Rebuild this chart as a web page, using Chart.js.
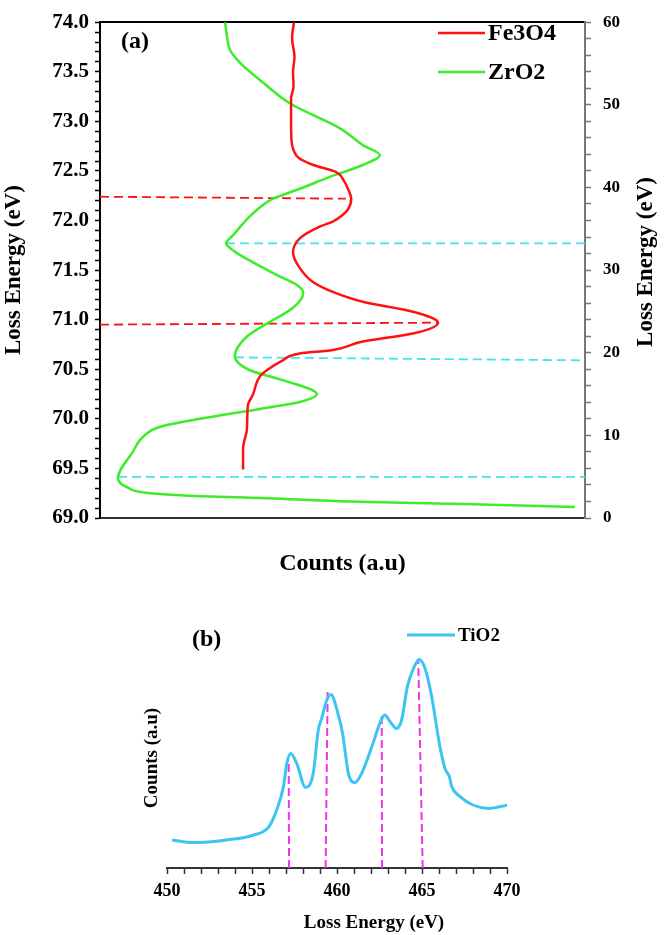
<!DOCTYPE html>
<html>
<head>
<meta charset="utf-8">
<script src="https://cdn.jsdelivr.net/npm/chart.js@4.4.1/dist/chart.umd.min.js"></script>
<style>
  body { margin: 0; background: #fff; }
  canvas { display: block; }
</style>
</head>
<body>
<canvas id="chartA" width="668" height="590"></canvas>
<canvas id="chartB" width="668" height="345"></canvas>
<script>
// ---- panel (a): Fe3O4 / ZrO2, energy on the vertical axis ----
const feEnergy = [74.00, 73.84, 73.65, 73.50, 73.35, 73.23, 73.00, 72.80, 72.71, 72.63, 72.56, 72.49, 72.40,
  72.30, 72.22, 72.11, 72.06, 71.99, 71.94, 71.82, 71.68, 71.52, 71.38, 71.28, 71.18, 71.08, 70.97, 70.86,
  70.78, 70.69, 70.66, 70.59, 70.49, 70.43, 70.24, 70.14, 69.90, 69.70, 69.49];
const feCounts = [40.0, 39.6, 40.1, 39.8, 39.9, 39.4, 39.4, 39.5, 39.9, 41.0, 44.0, 48.6, 50.3,
  51.3, 51.8, 51.1, 50.1, 48.0, 45.4, 41.2, 39.8, 41.2, 43.9, 48.0, 54.2, 64.5, 69.7, 64.5,
  54.2, 47.4, 41.2, 37.7, 34.4, 33.0, 31.5, 30.5, 30.3, 29.5, 29.5];

const zrEnergy = [74.00, 73.85, 73.72, 73.59, 73.36, 73.18, 72.93, 72.76, 72.66, 72.56, 72.44, 72.32, 72.22,
  72.07, 71.85, 71.77, 71.70, 71.62, 71.55, 71.45, 71.35, 71.27, 71.12, 70.96, 70.83, 70.63, 70.49, 70.39,
  70.25, 70.17, 70.10, 70.00, 69.92, 69.82, 69.67, 69.40, 69.31, 69.25, 69.22, 69.20, 69.17, 69.14, 69.11];
const zrCounts = [25.8, 26.2, 26.8, 28.9, 34.4, 39.2, 49.5, 54.2, 57.7, 54.2, 47.4, 41.2, 35.7,
  31.5, 27.4, 26.0, 27.4, 30.0, 32.6, 36.5, 40.6, 41.9, 39.8, 34.4, 30.3, 27.8, 30.9, 37.7,
  44.7, 41.2, 33.0, 20.6, 12.4, 8.9, 6.8, 3.7, 5.6, 10.3, 20.6, 34.4, 49.5, 74.8, 97.9];

// peak marker lines: [energy at start, energy at end], [count at start, count at end]
const feMarkEnergy = [[72.24, 72.22], [70.95, 70.97]];
const feMarkCounts = [[0, 50.7], [0, 69.7]];
const zrMarkEnergy = [[71.77, 71.77], [70.62, 70.59], [69.415, 69.415]];
const zrMarkCounts = [[26.0, 100], [27.8, 100], [3.7, 100]];

// ---- panel (b): TiO2 ----
const tiEnergy = [450.3, 451.5, 453.5, 455.1, 456.0, 456.45, 456.85, 457.05, 457.27, 457.63, 458.15, 458.6,
  458.9, 459.1, 459.4, 459.65, 460.0, 460.33, 460.67, 461.05, 461.45, 462.05, 462.6, 462.82, 463.12, 463.5,
  463.8, 464.14, 464.5, 464.84, 465.18, 465.57, 466.02, 466.35, 466.61, 466.75, 467.24, 468.0, 468.9, 470.05];
const tiCounts = [14, 12.7, 14, 16.5, 20.7, 29, 40.7, 52.3, 57.3, 52.3, 40.3, 47.3,
  69, 74.8, 84, 86.8, 79, 67.3, 47.3, 42.7, 47.3, 60.7, 74, 76.5, 73.2, 69.8,
  74, 90.7, 99.8, 104.3, 99.8, 85.7, 62.3, 49.8, 45.7, 40.7, 35.7, 31.5, 29.8, 31.5];
const tiMarkEnergy = [[457.18, 457.16], [459.33, 459.45], [462.65, 462.63], [465.04, 464.78]];
const tiMarkCounts = [[0, 53], [0, 88], [0, 78], [0, 104.3]];

const RED = '#ff1111', GREEN = '#3ded2a', CYAN = '#3ee6ee', BLUE = '#3cc4f2', MAGENTA = '#ee33ee';
const serif = '"Liberation Serif", "Times New Roman", serif';
const bold = size => ({ family: serif, size: size, weight: 'bold' });

function pts(xs, ys) {
  return xs.map((x, i) => ({ x: x, y: ys[i] }));
}

// texts and legend entries drawn at fixed spots around each panel
const panelText = {
  id: 'panelText',
  afterDraw(chart, args, opts) {
    const ctx = chart.ctx;
    ctx.save();
    ctx.fillStyle = '#000';
    ctx.textBaseline = 'middle';
    (opts.texts || []).forEach(t => {
      ctx.save();
      ctx.font = t.font;
      ctx.textAlign = t.align || 'left';
      ctx.translate(t.x, t.y);
      if (t.rotate) ctx.rotate(t.rotate);
      ctx.fillText(t.text, 0, 0);
      ctx.restore();
    });
    (opts.legend || []).forEach(l => {
      const ds = chart.data.datasets[l.dataset];
      ctx.strokeStyle = ds.borderColor;
      ctx.lineWidth = ds.borderWidth;
      ctx.beginPath();
      ctx.moveTo(l.x, l.y);
      ctx.lineTo(l.x + l.len, l.y);
      ctx.stroke();
      ctx.font = l.font;
      ctx.textAlign = 'left';
      ctx.fillText(ds.label, l.x + l.len + 3, l.y + 1);
    });
    ctx.restore();
  }
};

const dsA = [
  { label: 'Fe3O4', data: pts(feCounts, feEnergy), borderColor: RED, borderWidth: 2.5, cubicInterpolationMode: 'monotone' },
  { label: 'ZrO2', data: pts(zrCounts, zrEnergy), borderColor: GREEN, borderWidth: 2.5, cubicInterpolationMode: 'monotone' }
];
feMarkEnergy.forEach((e, i) => dsA.push({ data: pts(feMarkCounts[i], e), borderColor: RED, borderWidth: 1.8, borderDash: [9, 5] }));
zrMarkEnergy.forEach((e, i) => dsA.push({ data: pts(zrMarkCounts[i], e), borderColor: CYAN, borderWidth: 1.8, borderDash: [9, 5] }));

new Chart(document.getElementById('chartA'), {
  type: 'line',
  data: { datasets: dsA },
  options: {
    responsive: false,
    animation: false,
    indexAxis: 'y',
    layout: { padding: { top: 12, left: 0, right: 0, bottom: 0 } },
    elements: { point: { radius: 0 } },
    plugins: {
      legend: { display: false },
      tooltip: { enabled: false },
      panelText: {
        texts: [
          { text: '(a)', x: 121, y: 42, font: 'bold 24px ' + serif },
          { text: 'Loss Energy (eV)', x: 646, y: 262, font: 'bold 23px ' + serif, align: 'center', rotate: -Math.PI / 2 }
        ],
        legend: [
          { dataset: 0, x: 438, y: 33, len: 47, font: 'bold 24px ' + serif },
          { dataset: 1, x: 438, y: 72, len: 47, font: 'bold 24px ' + serif }
        ]
      }
    },
    scales: {
      x: {
        type: 'linear', position: 'bottom', min: 0, max: 100,
        ticks: { display: false },
        grid: { drawOnChartArea: false, drawTicks: false },
        border: { color: '#333', width: 2 },
        title: { display: true, text: 'Counts (a.u)', color: '#000', font: bold(24), padding: { top: 0, bottom: 12 } },
        afterFit: s => { s.height = 72; }
      },
      x2: {
        type: 'linear', position: 'top',
        ticks: { display: false },
        grid: { drawOnChartArea: false, drawTicks: false },
        border: { color: '#000', width: 2 },
        afterFit: s => { s.height = 0; }
      },
      y: {
        type: 'linear', position: 'left', min: 69, max: 74,
        ticks: {
          stepSize: 0.1, autoSkip: false, color: '#000', font: bold(21), padding: 6,
          callback: v => Math.abs(v * 2 - Math.round(v * 2)) < 1e-6 ? v.toFixed(1) : ''
        },
        grid: { drawOnChartArea: false, tickLength: 5, tickColor: '#000', tickWidth: 1.5 },
        border: { color: '#000', width: 2 },
        title: { display: true, text: 'Loss Energy (eV)', color: '#000', font: bold(23), padding: 0 },
        afterFit: s => { s.width = 100; }
      },
      y2: {
        type: 'linear', position: 'right', min: 0, max: 60,
        ticks: {
          stepSize: 2, autoSkip: false, color: '#000', font: bold(17), padding: 12,
          callback: v => v % 10 === 0 ? v : ''
        },
        grid: { drawOnChartArea: false, tickLength: 6, tickColor: '#777', tickWidth: 1.5 },
        border: { color: '#777', width: 2 },
        afterFit: s => { s.width = 83; }
      }
    }
  },
  plugins: [panelText]
});

const dsB = [
  { label: 'TiO2', data: pts(tiEnergy, tiCounts), borderColor: BLUE, borderWidth: 3, cubicInterpolationMode: 'monotone' }
];
tiMarkEnergy.forEach((e, i) => dsB.push({ data: pts(e, tiMarkCounts[i]), borderColor: MAGENTA, borderWidth: 2, borderDash: [8, 4] }));

new Chart(document.getElementById('chartB'), {
  type: 'line',
  data: { datasets: dsB },
  options: {
    responsive: false,
    animation: false,
    layout: { padding: { top: 58, left: 141, right: 161, bottom: 0 } },
    elements: { point: { radius: 0 } },
    plugins: {
      legend: { display: false },
      tooltip: { enabled: false },
      panelText: {
        texts: [
          { text: '(b)', x: 192, y: 50, font: 'bold 24px ' + serif },
          { text: 'Loss Energy (eV)', x: 374, y: 333, font: 'bold 19px ' + serif, align: 'center' }
        ],
        legend: [
          { dataset: 0, x: 407, y: 45, len: 48, font: 'bold 19px ' + serif }
        ]
      }
    },
    scales: {
      x: {
        type: 'linear', min: 450, max: 470,
        ticks: {
          stepSize: 1, autoSkip: false, maxRotation: 0, minRotation: 0,
          color: '#000', font: bold(18), padding: 7,
          callback: v => v % 5 === 0 ? v : ''
        },
        grid: { drawOnChartArea: false, tickLength: 6, tickColor: '#333', tickWidth: 1.5 },
        border: { color: '#333', width: 2 },
        afterFit: s => { s.height = 67; }
      },
      y: {
        type: 'linear', min: 0, max: 110,
        ticks: { display: false },
        grid: { display: false },
        border: { display: false },
        title: { display: true, text: 'Counts (a.u)', color: '#000', font: bold(19), padding: 0 },
        afterFit: s => { s.width = 26; }
      }
    }
  },
  plugins: [panelText]
});
</script>
</body>
</html>
